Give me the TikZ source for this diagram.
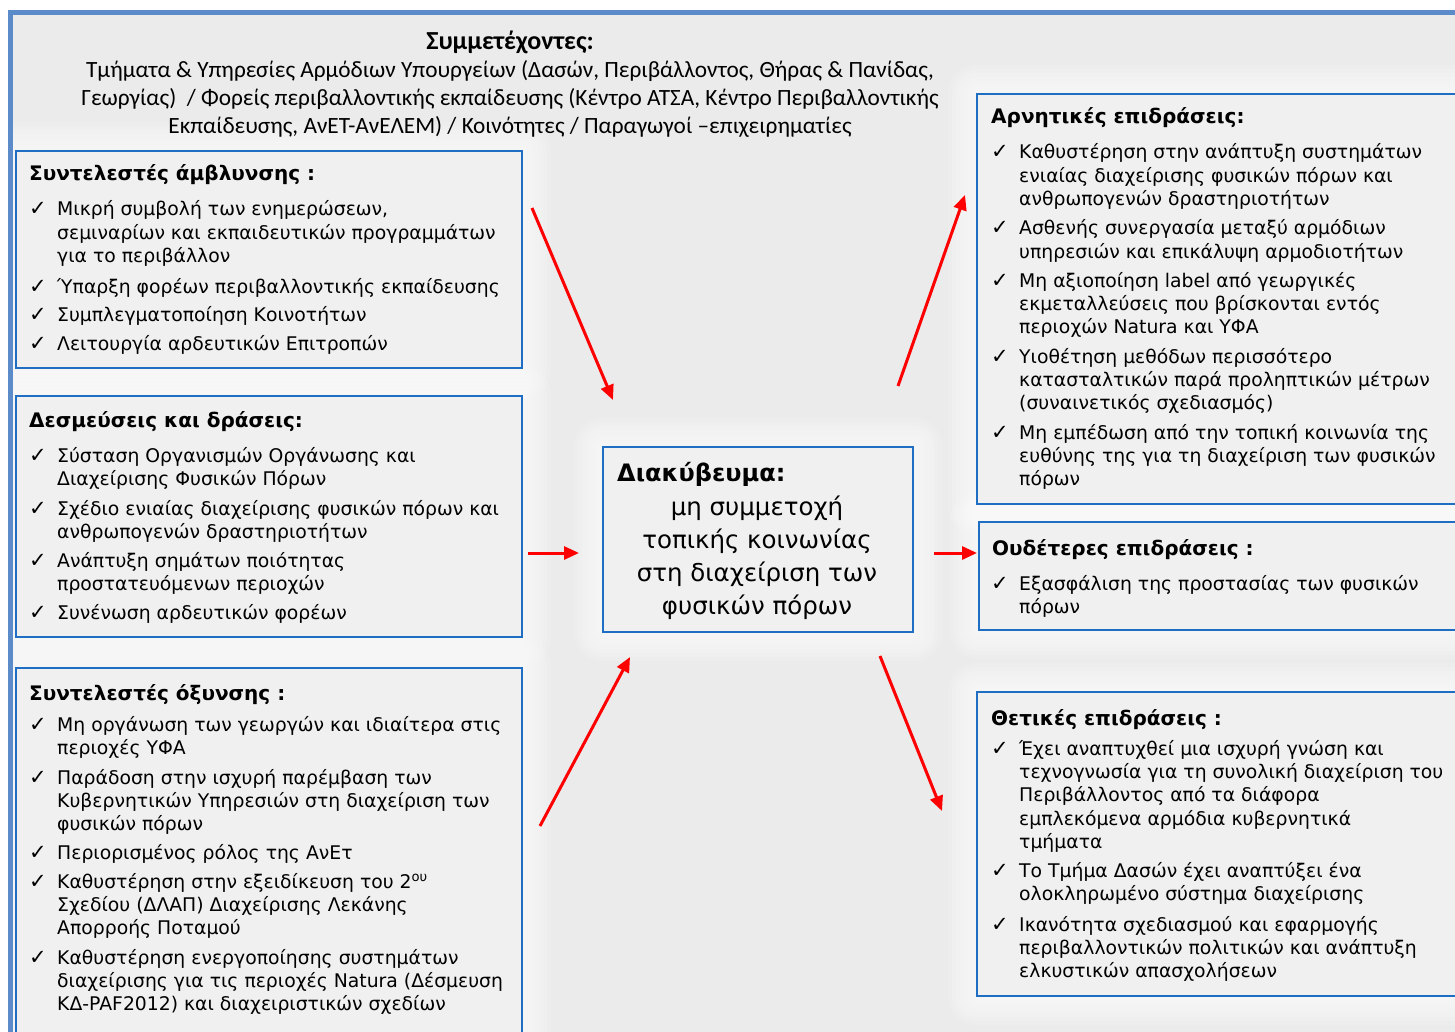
\documentclass[tikz,border=0pt]{standalone}
\usepackage{fontspec}
\setmainfont{DejaVu Sans}
\newfontfamily\hdrfont{Carlito}
\usetikzlibrary{arrows.meta}
\definecolor{boxblue}{HTML}{1E6FC4}
\definecolor{frameblue}{HTML}{5B8BC8}
\definecolor{bggray}{HTML}{EBEBEB}
\definecolor{boxfill}{HTML}{F0F0F0}
\definecolor{arrred}{HTML}{FF0000}
\pgfdeclarelayer{bg}
\pgfsetlayers{bg,main}
\newcommand\Lines[1]{\begin{tabular}[t]{@{}l@{}}#1\end{tabular}}
\begin{document}
\begin{tikzpicture}[x=1pt,y=-1pt,
  panel/.style={draw=boxblue, line width=2.4pt, fill=boxfill, rectangle, inner sep=0, anchor=north west},
  ttl/.style={anchor=base west, inner sep=0, font=\bfseries\fontsize{20}{24}\selectfont},
  txt/.style={anchor=base west, inner sep=0, font=\fontsize{18.8}{23.4}\selectfont},
  chk/.style={anchor=base west, inner sep=0, font=\fontsize{21}{22}\selectfont},
  hdr/.style={anchor=base, inner sep=0, font=\hdrfont\fontsize{23.3}{26}\selectfont},
  conn/.style={draw=arrred, line width=3pt, -{Triangle[length=15pt,width=13pt]}},
]
\useasboundingbox (0,0) rectangle (1455,1032);
\begin{pgfonlayer}{bg}
\fill[white] (0,0) rectangle (1455,1032);
\fill[bggray] (8,10) rectangle (1455,1032);
\end{pgfonlayer}
\fill[frameblue] (8,10) rectangle (1455,15);
\fill[frameblue] (8,10) rectangle (13,1032);

% header
\node[hdr, font=\hdrfont\bfseries\fontsize{26}{30}\selectfont] (h0) at (510,50) {Συμμετέχοντες:};
\node[hdr] (h1) at (510,78) {Τμήματα \& Υπηρεσίες Αρμόδιων Υπουργείων (Δασών, Περιβάλλοντος, Θήρας \& Πανίδας,};
\node[hdr] (h2) at (510,106) {Γεωργίας)~ / Φορείς περιβαλλοντικής εκπαίδευσης (Κέντρο ΑΤΣΑ, Κέντρο Περιβαλλοντικής};
\node[hdr] (h3) at (510,134) {Εκπαίδευσης, ΑνΕΤ-ΑνΕΛΕΜ) / Κοινότητες / Παραγωγοί –επιχειρηματίες};

% boxes
\node[panel, minimum width=506pt, minimum height=217pt] (b1) at (15,150) {};
\node[panel, minimum width=506pt, minimum height=241pt] (b2) at (15,395) {};
\node[panel, minimum width=506pt, minimum height=380pt] (b3) at (15,667) {};
\node[panel, minimum width=310pt, minimum height=185pt] (c) at (602,446) {};
\node[panel, minimum width=500pt, minimum height=410pt] (r1) at (976,93) {};
\node[panel, minimum width=500pt, minimum height=108pt] (r2) at (978,521) {};
\node[panel, minimum width=500pt, minimum height=304pt] (r3) at (976,691) {};

\begin{pgfonlayer}{bg}
\foreach \b in {b1,b2,b3,c,r1,r2,r3}{
  \foreach \w in {56,48,40,32,24,16,8}{
    \draw[white, opacity=0.14, line width=\w pt, line join=round] (\b.north west) rectangle (\b.south east);
  }
}
\end{pgfonlayer}

% box 1
\node[ttl] (b1t) at (29,181) {Συντελεστές άμβλυνσης :};
\node[chk] (b1c1) at (29,216) {✓};
\node[txt] (b1i1) at (57,216) {\Lines{Μικρή συμβολή των ενημερώσεων,\\σεμιναρίων και εκπαιδευτικών προγραμμάτων\\για το περιβάλλον}};
\node[chk] (b1c2) at (29,293) {✓};
\node[txt] (b1i2) at (57,293) {Ύπαρξη φορέων περιβαλλοντικής εκπαίδευσης};
\node[chk] (b1c3) at (29,321) {✓};
\node[txt] (b1i3) at (57,321) {Συμπλεγματοποίηση Κοινοτήτων};
\node[chk] (b1c4) at (29,350) {✓};
\node[txt] (b1i4) at (57,350) {Λειτουργία αρδευτικών Επιτροπών};

% box 2
\node[ttl] (b2t) at (29,427) {Δεσμεύσεις και δράσεις:};
\node[chk] (b2c1) at (29,462) {✓};
\node[txt] (b2i1) at (57,462) {\Lines{Σύσταση Οργανισμών Οργάνωσης και\\Διαχείρισης Φυσικών Πόρων}};
\node[chk] (b2c2) at (29,515) {✓};
\node[txt] (b2i2) at (57,515) {\Lines{Σχέδιο ενιαίας διαχείρισης φυσικών πόρων και\\ανθρωπογενών δραστηριοτήτων}};
\node[chk] (b2c3) at (29,567) {✓};
\node[txt] (b2i3) at (57,567) {\Lines{Ανάπτυξη σημάτων ποιότητας\\προστατευόμενων περιοχών}};
\node[chk] (b2c4) at (29,619) {✓};
\node[txt] (b2i4) at (57,619) {Συνένωση αρδευτικών φορέων};

% box 3
\node[ttl] (b3t) at (29,700) {Συντελεστές όξυνσης :};
\node[chk] (b3c1) at (29,731) {✓};
\node[txt] (b3i1) at (57,731) {\Lines{Μη οργάνωση των γεωργών και ιδιαίτερα στις\\περιοχές ΥΦΑ}};
\node[chk] (b3c2) at (29,784) {✓};
\node[txt] (b3i2) at (57,784) {\Lines{Παράδοση στην ισχυρή παρέμβαση των\\Κυβερνητικών Υπηρεσιών στη διαχείριση των\\φυσικών πόρων}};
\node[chk] (b3c3) at (29,859) {✓};
\node[txt] (b3i3) at (57,859) {Περιορισμένος ρόλος της ΑνΕτ};
\node[chk] (b3c4) at (29,888) {✓};
\node[txt] (b3i4) at (57,888) {\Lines{Καθυστέρηση στην εξειδίκευση του 2\textsuperscript{ου}\\Σχεδίου (ΔΛΑΠ) Διαχείρισης Λεκάνης\\Απορροής Ποταμού}};
\node[chk] (b3c5) at (29,964) {✓};
\node[txt] (b3i5) at (57,964) {\Lines{Καθυστέρηση ενεργοποίησης συστημάτων\\διαχείρισης για τις περιοχές Natura (Δέσμευση\\ΚΔ-PAF2012) και διαχειριστικών σχεδίων}};

% center
\node[ttl, font=\bfseries\fontsize{24}{28}\selectfont] (ct) at (617,481) {Διακύβευμα:};
\node[anchor=base, inner sep=0, font=\fontsize{24.5}{33}\selectfont] (cx) at (757,515) {\begin{tabular}[t]{@{}c@{}}μη συμμετοχή\\τοπικής κοινωνίας\\στη διαχείριση των\\φυσικών πόρων\end{tabular}};

% right 1
\node[ttl] (r1t) at (991,124) {Αρνητικές επιδράσεις:};
\node[chk] (r1c1) at (991,159) {✓};
\node[txt] (r1i1) at (1019,159) {\Lines{Καθυστέρηση στην ανάπτυξη συστημάτων\\ενιαίας διαχείρισης φυσικών πόρων και\\ανθρωπογενών δραστηριοτήτων}};
\node[chk] (r1c2) at (991,235) {✓};
\node[txt] (r1i2) at (1019,235) {\Lines{Ασθενής συνεργασία μεταξύ αρμόδιων\\υπηρεσιών και επικάλυψη αρμοδιοτήτων}};
\node[chk] (r1c3) at (991,287) {✓};
\node[txt] (r1i3) at (1019,287) {\Lines{Μη αξιοποίηση label από γεωργικές\\εκμεταλλεύσεις που βρίσκονται εντός\\περιοχών Natura και ΥΦΑ}};
\node[chk] (r1c4) at (991,363) {✓};
\node[txt] (r1i4) at (1019,363) {\Lines{Υιοθέτηση μεθόδων περισσότερο\\κατασταλτικών παρά προληπτικών μέτρων\\(συναινετικός σχεδιασμός)}};
\node[chk] (r1c5) at (991,439) {✓};
\node[txt] (r1i5) at (1019,439) {\Lines{Μη εμπέδωση από την τοπική κοινωνία της\\ευθύνης της για τη διαχείριση των φυσικών\\πόρων}};

% right 2
\node[ttl] (r2t) at (992,555) {Ουδέτερες επιδράσεις :};
\node[chk] (r2c1) at (991,590) {✓};
\node[txt] (r2i1) at (1019,590) {\Lines{Εξασφάλιση της προστασίας των φυσικών\\πόρων}};

% right 3
\node[ttl] (r3t) at (991,725) {Θετικές επιδράσεις :};
\node[chk] (r3c1) at (991,755) {✓};
\node[txt] (r3i1) at (1019,755) {\Lines{Έχει αναπτυχθεί μια ισχυρή γνώση και\\τεχνογνωσία για τη συνολική διαχείριση του\\Περιβάλλοντος από τα διάφορα\\εμπλεκόμενα αρμόδια κυβερνητικά\\τμήματα}};
\node[chk] (r3c2) at (991,877) {✓};
\node[txt] (r3i2) at (1019,877) {\Lines{Το Τμήμα Δασών έχει αναπτύξει ένα\\ολοκληρωμένο σύστημα διαχείρισης}};
\node[chk] (r3c3) at (991,931) {✓};
\node[txt] (r3i3) at (1019,931) {\Lines{Ικανότητα σχεδιασμού και εφαρμογής\\περιβαλλοντικών πολιτικών και ανάπτυξη\\ελκυστικών απασχολήσεων}};

% arrows
\coordinate (a1s) at (532,208); \coordinate (a1e) at (613,400);
\coordinate (a2s) at (528,553); \coordinate (a2e) at (579,553);
\coordinate (a3s) at (540,826); \coordinate (a3e) at (630,657);
\coordinate (a4s) at (898,386); \coordinate (a4e) at (965,195);
\coordinate (a5s) at (934,553); \coordinate (a5e) at (977,553);
\coordinate (a6s) at (880,656); \coordinate (a6e) at (942,811);
\draw[conn] (a1s) -- (a1e);
\draw[conn] (a2s) -- (a2e);
\draw[conn] (a3s) -- (a3e);
\draw[conn] (a4s) -- (a4e);
\draw[conn] (a5s) -- (a5e);
\draw[conn] (a6s) -- (a6e);
\end{tikzpicture}
\end{document}
